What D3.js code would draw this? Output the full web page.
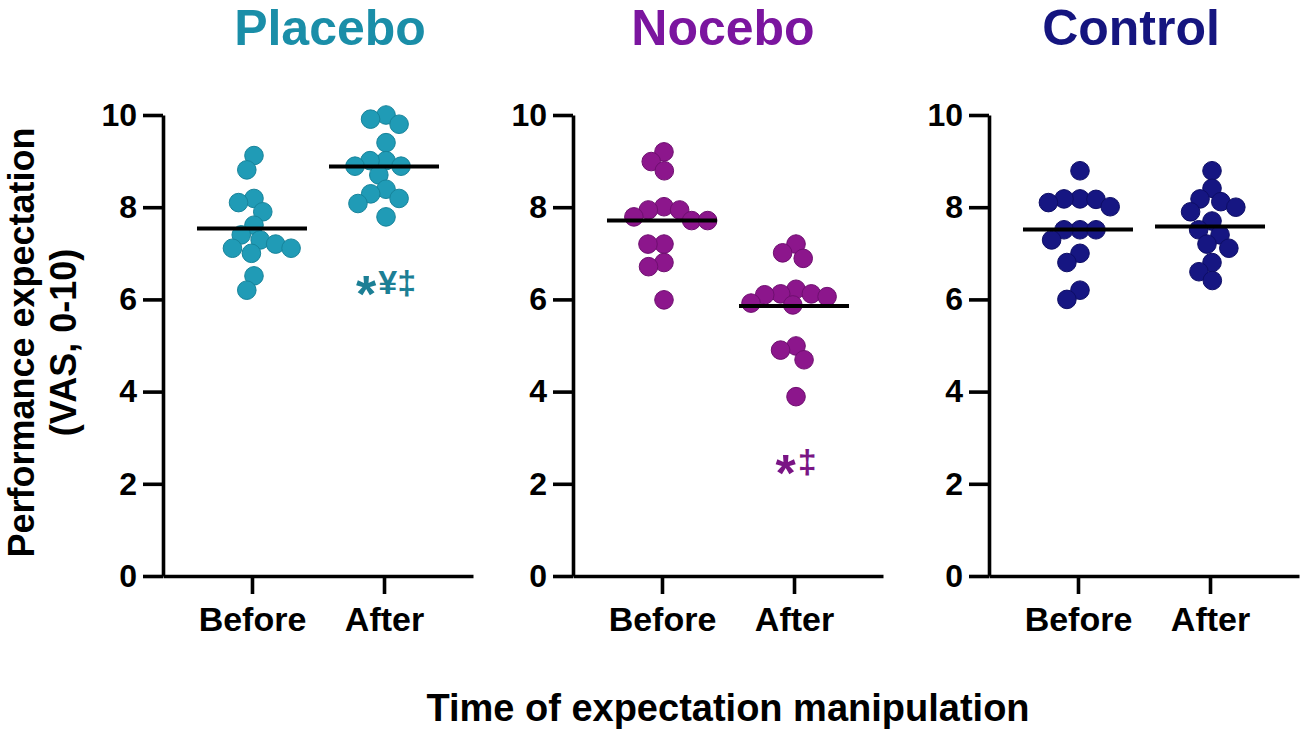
<!DOCTYPE html>
<html>
<head>
<meta charset="utf-8">
<script src="https://cdn.jsdelivr.net/npm/d3@7"></script>
<style>
    body { margin: 0; background: #fff; }
    text { font-family: "Liberation Sans", Arial, sans-serif; font-weight: bold; }
</style>
</head>
<body>
<svg width="1300" height="733"></svg>
<script>
// data
const groups = ['Placebo', 'Nocebo', 'Control'];
const times = ['Before', 'After'];
const yTicks = [0, 2, 4, 6, 8, 10];

const placeboBefore = [9.12, 8.81, 8.19, 8.10, 7.90, 7.61, 7.40, 7.29, 7.20, 7.11, 7.11, 7.00, 6.51, 6.20];
const placeboAfter = [10.0, 9.91, 9.80, 9.40, 9.01, 9.01, 8.89, 8.89, 8.70, 8.39, 8.29, 8.19, 8.08, 7.79];
const noceboBefore = [9.20, 8.99, 8.79, 8.01, 7.94, 7.94, 7.79, 7.71, 7.71, 7.20, 7.20, 6.80, 6.71, 5.99];
const noceboAfter = [7.20, 7.01, 6.89, 6.22, 6.12, 6.12, 6.10, 6.06, 5.92, 5.88, 4.99, 4.90, 4.69, 3.89];
const controlBefore = [8.79, 8.18, 8.18, 8.17, 8.10, 8.01, 7.51, 7.51, 7.51, 7.29, 7.00, 6.80, 6.20, 6.00];
const controlAfter = [8.79, 8.41, 8.18, 8.12, 8.00, 7.90, 7.70, 7.51, 7.40, 7.20, 7.11, 6.80, 6.60, 6.41];

const series = [
    [placeboBefore, placeboAfter],
    [noceboBefore, noceboAfter],
    [controlBefore, controlAfter]
];
// significance marks under the "After" column
const markStar = ['*', '*', ''];
const markRest = ['¥‡', '‡', ''];
const markLevel = [6.12, 2.23, 0];

const pointColor = ['#209bb6', '#8c168c', '#161682'];
const strokeColor = ['#17849b', '#6f0f70', '#0e0e66'];
const titleColor = ['#1a8ea8', '#7b159f', '#15157f'];
const markColor = ['#1c7f95', '#7a1585', '#000'];

const svg = d3.select('svg');

const panelX = [163, 573, 989];
const panelW = 310;
const titleX = [330, 723, 1131];
const R = 9.3;
const D = 16;

const y = d3.scaleLinear().domain([0, 10]).range([576, 115]);
const x = d3.scalePoint().domain(times).range([0, panelW]).padding(0.674);

// simple beeswarm: closest free spot to the centre line
swarm = (values) => {
    const items = values.map(v => ({ v: v, y: y(v), x: 0 })).sort((a, b) => a.y - b.y);
    const placed = [];
    items.forEach(it => {
        const cands = [0];
        placed.forEach(p => {
            const dy = Math.abs(it.y - p.y);
            if (dy < D) {
                const dx = Math.sqrt(D * D - dy * dy);
                cands.push(p.x + dx, p.x - dx);
            }
        });
        cands.sort((a, b) => Math.abs(a) - Math.abs(b) || a - b);
        for (const c of cands) {
            if (placed.every(p => (p.x - c) ** 2 + (p.y - it.y) ** 2 >= D * D - 0.01)) {
                it.x = c;
                break;
            }
        }
        placed.push(it);
    });
    return items;
};

groups.forEach((name, gi) => {
    const g = svg.append('g').attr('transform', `translate(${panelX[gi]},0)`);

    // axes
    const yAxis = g.append('g')
        .call(d3.axisLeft(y).tickValues(yTicks).tickSize(20).tickSizeOuter(0).tickPadding(6));
    yAxis.selectAll('text').attr('font-size', 32).attr('fill', '#000');

    const xAxis = g.append('g')
        .attr('transform', `translate(0,${y(0)})`)
        .call(d3.axisBottom(x).tickSize(18).tickSizeOuter(0).tickPadding(13));
    xAxis.selectAll('text').attr('font-size', 34).attr('fill', '#000');

    g.selectAll('.domain, .tick line')
        .attr('stroke', '#000')
        .attr('stroke-width', 3.6);
    g.selectAll('text').style('font-family', '"Liberation Sans", Arial, sans-serif');

    // points + means
    times.forEach((t, ti) => {
        const vals = series[gi][ti];
        const cx = x(t) + 2;
        g.append('g')
            .selectAll('circle')
            .data(swarm(vals))
            .enter()
            .append('circle')
            .attr('cx', d => cx + d.x)
            .attr('cy', d => d.y)
            .attr('r', R)
            .attr('fill', pointColor[gi])
            .attr('stroke', strokeColor[gi])
            .attr('stroke-width', 1);

        const m = d3.mean(vals);
        g.append('line')
            .attr('x1', x(t) - 55)
            .attr('x2', x(t) + 55)
            .attr('y1', y(m))
            .attr('y2', y(m))
            .attr('stroke', '#000')
            .attr('stroke-width', 4);
    });

    if (markStar[gi]) {
        const mk = g.append('text')
            .attr('x', x('After') + 2)
            .attr('y', y(markLevel[gi]))
            .attr('text-anchor', 'middle')
            .attr('font-size', 34)
            .attr('fill', markColor[gi]);
        mk.append('tspan').attr('font-size', 52).attr('dy', 18).text(markStar[gi]);
        mk.append('tspan').attr('dy', -18).attr('dx', 2).text(markRest[gi]);
    }

    svg.append('text')
        .attr('x', titleX[gi])
        .attr('y', 45)
        .attr('text-anchor', 'middle')
        .attr('font-size', 50)
        .attr('fill', titleColor[gi])
        .text(name);
});

// axis titles
const yTitle = svg.append('text')
    .attr('transform', `translate(34,${y(5) - 3}) rotate(-90)`)
    .attr('text-anchor', 'middle')
    .attr('font-size', 36)
    .attr('fill', '#000');
yTitle.append('tspan').attr('x', 0).attr('y', 0).text('Performance expectation');
yTitle.append('tspan').attr('x', 0).attr('y', 42).text('(VAS, 0-10)');

svg.append('text')
    .attr('x', 728)
    .attr('y', 721)
    .attr('text-anchor', 'middle')
    .attr('font-size', 38)
    .attr('fill', '#000')
    .text('Time of expectation manipulation');
</script>
</body>
</html>
